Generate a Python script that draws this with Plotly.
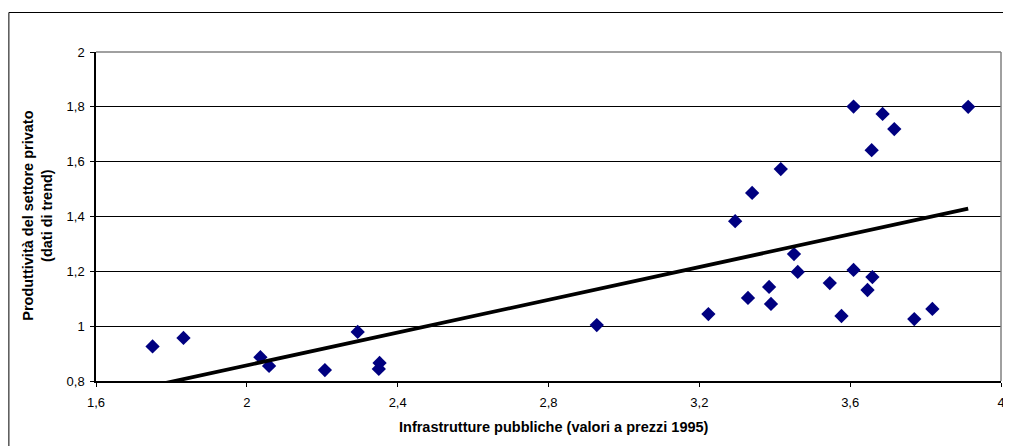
import numpy as np
import plotly.graph_objects as go

# Data
infrastrutture = [1.750, 1.832, 2.036, 2.059, 2.207, 2.294, 2.352, 2.350, 2.928, 3.224,
                  3.295, 3.340, 3.329, 3.385, 3.390, 3.416, 3.451, 3.461, 3.546, 3.577,
                  3.609, 3.609, 3.646, 3.657, 3.659, 3.686, 3.717, 3.770, 3.818, 3.913]
produttivita = [0.926, 0.957, 0.887, 0.855, 0.840, 0.979, 0.866, 0.844, 1.004, 1.044,
                1.383, 1.486, 1.103, 1.143, 1.081, 1.573, 1.263, 1.198, 1.157, 1.037,
                1.801, 1.205, 1.132, 1.642, 1.179, 1.774, 1.719, 1.026, 1.063, 1.800]

x_ticks = [1.6, 2.0, 2.4, 2.8, 3.2, 3.6, 4.0]
y_ticks = [0.8, 1.0, 1.2, 1.4, 1.6, 1.8, 2.0]

x = np.array(infrastrutture)
y = np.array(produttivita)
slope, intercept = np.polyfit(x, y, 1)
xt = np.array([x.min(), x.max()])
yt = slope * xt + intercept

FONT = "Liberation Sans, Arial, sans-serif"

fig = go.Figure()
fig.add_trace(go.Scatter(x=infrastrutture, y=produttivita, mode="markers",
                         marker=dict(symbol="diamond", size=11, color="#000080",
                                     line=dict(width=0)),
                         showlegend=False))
fig.add_trace(go.Scatter(x=xt, y=yt, mode="lines",
                         line=dict(color="#000000", width=3.8),
                         showlegend=False))

# page body has an 8px margin, so the figure is sized to fit the window
W, H = 1003, 438
L, R, T, B = 88, 6, 44, 65
pw, ph = W - L - R, H - T - B

def px_x(p):
    return (p - L) / pw

def px_y(p):
    return (H - B - p) / ph

fig.update_layout(
    width=W, height=H,
    margin=dict(l=L, r=R, t=T, b=B, pad=0),
    paper_bgcolor="white", plot_bgcolor="white",
    separators=",.",
    font=dict(family=FONT, size=13, color="#000000"),
    xaxis=dict(range=[1.6, 4.0], tickvals=x_ticks, showgrid=False, zeroline=False,
               showline=True, linecolor="#000000", linewidth=1.5,
               ticks="outside", ticklen=4, tickcolor="#000000",
               ticklabelstandoff=5,
               tickfont=dict(family=FONT, size=13)),
    yaxis=dict(range=[0.8, 2.0], tickvals=y_ticks, showgrid=True, gridcolor="#000000",
               gridwidth=1, zeroline=False,
               showline=True, linecolor="#000000", linewidth=1.5,
               ticks="outside", ticklen=4, tickcolor="#000000",
               ticklabelstandoff=3,
               tickfont=dict(family=FONT, size=13)),
    annotations=[
        dict(text="<b>Infrastrutture pubbliche (valori a prezzi 1995)</b>",
             xref="paper", yref="paper", x=px_x(556 - 8), y=px_y(427 - 8),
             xanchor="center", yanchor="middle", showarrow=False,
             font=dict(family=FONT, size=14.5, color="#000000")),
        dict(text="<b>Produttività del settore privato<br>(dati di trend)</b>",
             xref="paper", yref="paper", x=px_x(36.5 - 8), y=px_y(216 - 8),
             xanchor="center", yanchor="middle", showarrow=False, textangle=-90,
             font=dict(family=FONT, size=14.5, color="#000000")),
    ],
    shapes=[
        # plot area top and right border (grey)
        dict(type="line", xref="paper", yref="paper", x0=0, x1=1, y0=1, y1=1,
             line=dict(color="#808080", width=1.5), layer="above"),
        dict(type="line", xref="paper", yref="paper", x0=1, x1=1, y0=0, y1=1,
             line=dict(color="#808080", width=1.5), layer="above"),
        # outer chart frame
        dict(type="line", xref="paper", yref="paper", x0=px_x(0.5), x1=px_x(1020),
             y0=px_y(4.5), y1=px_y(4.5), line=dict(color="#000000", width=1)),
        dict(type="line", xref="paper", yref="paper", x0=px_x(0.5), x1=px_x(0.5),
             y0=px_y(4.5), y1=px_y(460), line=dict(color="#000000", width=1)),
    ],
)

fig.write_html("out.html")
